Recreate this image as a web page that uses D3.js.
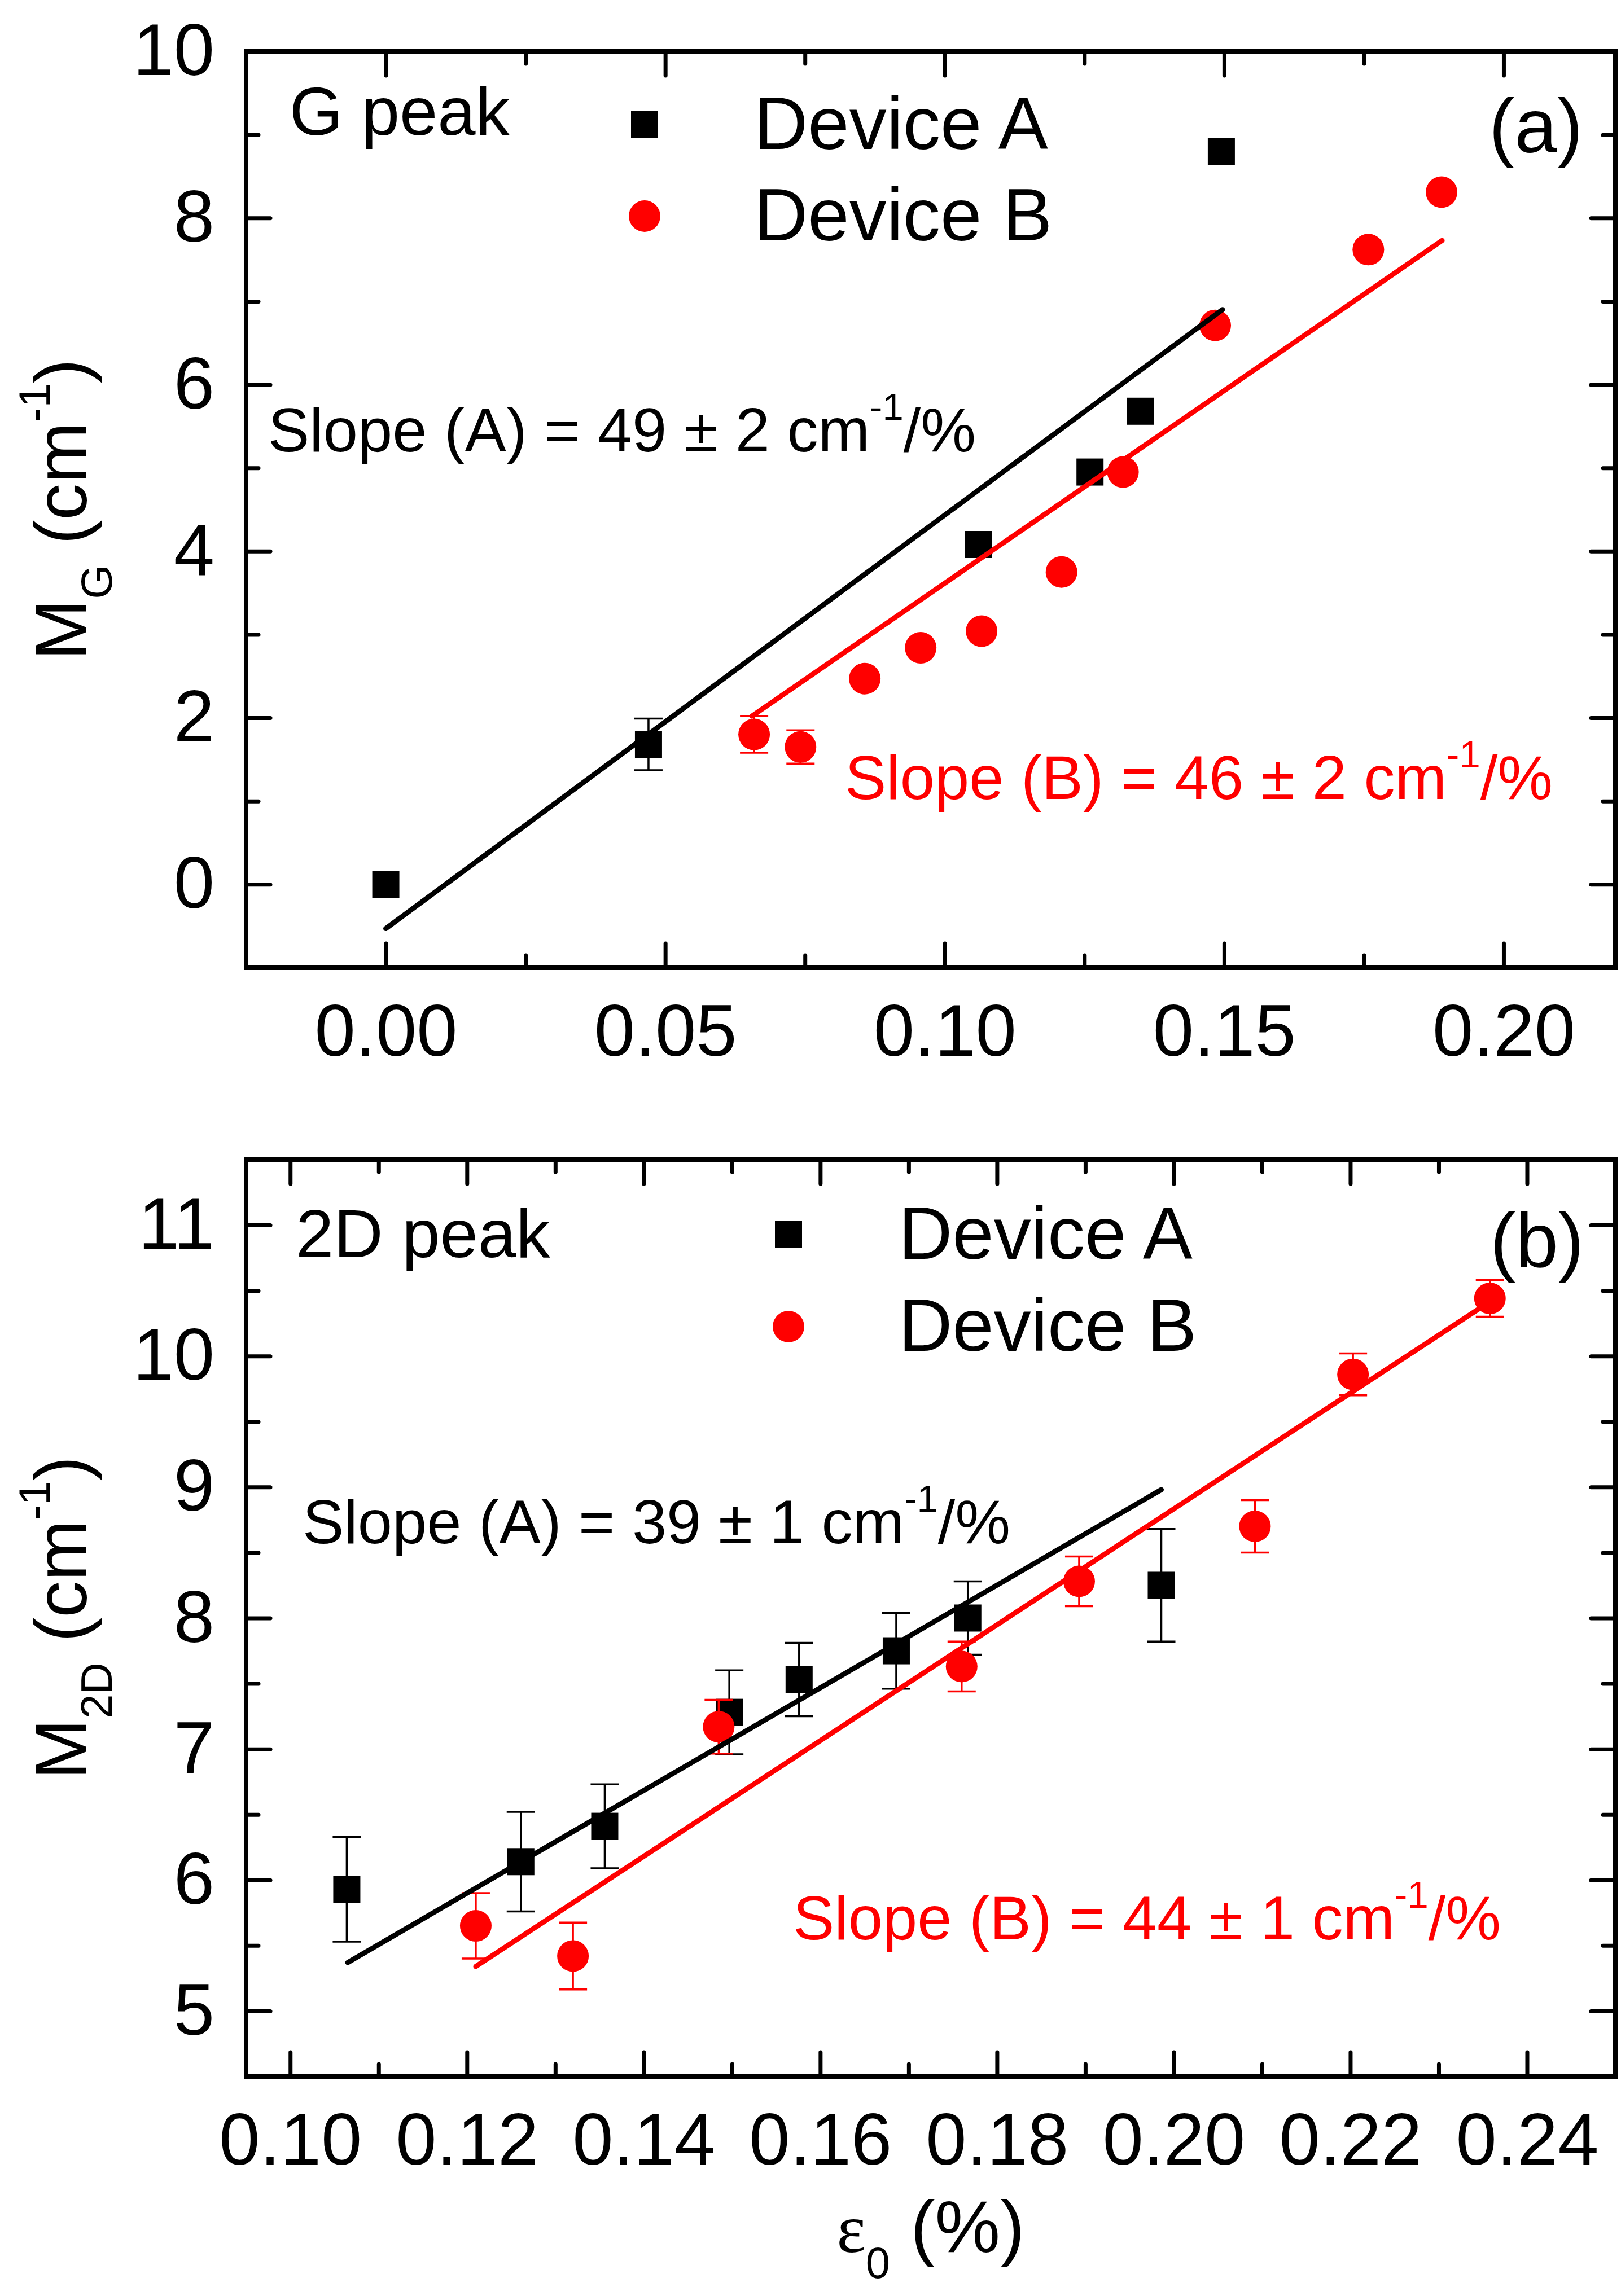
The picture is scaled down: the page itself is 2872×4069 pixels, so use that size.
<!DOCTYPE html>
<html><head><meta charset="utf-8">
<script src="https://cdn.jsdelivr.net/npm/d3@7"></script>
<style>body{margin:0;background:#fff} svg{display:block}</style>
</head><body><svg id="c" width="2872" height="4069"></svg>
<script>
// ---------- DATA ----------
// Panel (a): G peak
const gXMajor = [0, 0.05, 0.10, 0.15, 0.20];
const gXMinor = [0.025, 0.075, 0.125, 0.175];
const gYMajor = [0, 2, 4, 6, 8, 10];
const gYMinor = [1, 3, 5, 7, 9];
const gA_x = [0.000, 0.047, 0.106, 0.126, 0.135, 0.1495];
const gA_y = [0.00, 1.68, 4.08, 4.95, 5.68, 8.80];
const gA_err = [0, 0.31, 0, 0, 0, 0];
const gB_x = [0.0659, 0.0742, 0.0857, 0.0957, 0.1066, 0.1209, 0.1319, 0.1484, 0.1758, 0.1889];
const gB_y = [1.80, 1.65, 2.47, 2.84, 3.04, 3.75, 4.95, 6.71, 7.62, 8.31];
const gB_err = [0.22, 0.20, 0, 0, 0, 0, 0, 0, 0, 0];
const gFitA = [[0.0, -0.53], [0.1497, 6.90]];
const gFitB = [[0.0655, 2.02], [0.189, 7.73]];

// Panel (b): 2D peak
const dXMajor = [0.10, 0.12, 0.14, 0.16, 0.18, 0.20, 0.22, 0.24];
const dXMinor = [0.11, 0.13, 0.15, 0.17, 0.19, 0.21, 0.23];
const dYMajor = [5, 6, 7, 8, 9, 10, 11];
const dYMinor = [5.5, 6.5, 7.5, 8.5, 9.5, 10.5];
const dA_x = [0.1064, 0.1261, 0.1356, 0.1497, 0.1576, 0.1686, 0.1767, 0.1986];
const dA_y = [5.93, 6.14, 6.41, 7.28, 7.53, 7.75, 8.00, 8.25];
const dA_err = [0.40, 0.38, 0.32, 0.32, 0.28, 0.29, 0.28, 0.43];
const dB_x = [0.1210, 0.1320, 0.1485, 0.1760, 0.1893, 0.2092, 0.2203, 0.2358];
const dB_y = [5.65, 5.42, 7.17, 7.63, 8.28, 8.70, 9.86, 10.44];
const dB_err = [0.25, 0.255, 0.205, 0.19, 0.19, 0.20, 0.16, 0.14];
const dFitA = [[0.1065, 5.37], [0.1986, 8.98]];
const dFitB = [[0.121, 5.34], [0.235, 10.38]];

const legendNames = ["Device A", "Device B"];
const RED = "#ff0000";
const FONT = "'Liberation Sans', Arial, sans-serif";

// ---------- DRAW ----------
const svg = d3.select('#c');
svg.append('rect').attr('width', 2872).attr('height', 4069).attr('fill', '#fff');

const MAJ = 43, MIN = 22;

function panel(p) {
  const x = d3.scaleLinear().domain(p.xDomain).range([p.left, p.right]);
  const y = d3.scaleLinear().domain(p.yDomain).range([p.bottom, p.top]);
  const g = svg.append('g');

  function addAxis(axis, tr, labels) {
    const a = g.append('g').attr('transform', tr).call(axis);
    a.select('.domain').remove();
    a.attr('font-size', 130).attr('font-family', FONT);
    a.selectAll('.tick line').attr('stroke', '#000').attr('stroke-width', 7).attr('stroke-linecap', 'round');
    a.selectAll('.tick text').attr('fill', '#000');
    if (!labels) a.selectAll('.tick text').remove();
  }
  const fx = d3.format('.2f');
  addAxis(d3.axisBottom(x).tickValues(p.xMajor).tickSize(-MAJ).tickPadding(64).tickFormat(fx), `translate(0,${p.bottom})`, true);
  addAxis(d3.axisBottom(x).tickValues(p.xMinor).tickSize(-MIN), `translate(0,${p.bottom})`, false);
  addAxis(d3.axisTop(x).tickValues(p.xMajor).tickSize(-MAJ), `translate(0,${p.top})`, false);
  addAxis(d3.axisTop(x).tickValues(p.xMinor).tickSize(-MIN), `translate(0,${p.top})`, false);
  addAxis(d3.axisLeft(y).tickValues(p.yMajor).tickSize(-MAJ).tickPadding(56).tickFormat(d3.format('d')), `translate(${p.left},0)`, true);
  addAxis(d3.axisLeft(y).tickValues(p.yMinor).tickSize(-MIN), `translate(${p.left},0)`, false);
  addAxis(d3.axisRight(y).tickValues(p.yMajor).tickSize(-MAJ), `translate(${p.right},0)`, false);
  addAxis(d3.axisRight(y).tickValues(p.yMinor).tickSize(-MIN), `translate(${p.right},0)`, false);

  g.append('rect').attr('x', p.left).attr('y', p.top)
    .attr('width', p.right - p.left).attr('height', p.bottom - p.top)
    .attr('fill', 'none').attr('stroke', '#000').attr('stroke-width', 8);

  function errBars(xs, ys, es, color) {
    const d = xs.map((v, i) => ({x: v, y: ys[i], e: es[i]})).filter(o => o.e > 0);
    const eg = g.append('g').attr('stroke', color).attr('stroke-width', 3.5);
    d.forEach(o => {
      const cx = x(o.x), y1 = y(o.y - o.e), y2 = y(o.y + o.e);
      eg.append('line').attr('x1', cx).attr('x2', cx).attr('y1', y1).attr('y2', y2);
      eg.append('line').attr('x1', cx - 25).attr('x2', cx + 25).attr('y1', y1).attr('y2', y1);
      eg.append('line').attr('x1', cx - 25).attr('x2', cx + 25).attr('y1', y2).attr('y2', y2);
    });
  }
  errBars(p.ax, p.ay, p.ae, '#000');
  g.append('g').selectAll('rect').data(p.ax.map((v, i) => [v, p.ay[i]])).join('rect')
    .attr('x', d => x(d[0]) - 24).attr('y', d => y(d[1]) - 24)
    .attr('width', 48).attr('height', 48).attr('fill', '#000');
  errBars(p.bx, p.by, p.be, RED);
  g.append('g').selectAll('circle').data(p.bx.map((v, i) => [v, p.by[i]])).join('circle')
    .attr('cx', d => x(d[0])).attr('cy', d => y(d[1])).attr('r', 28).attr('fill', RED);

  const line = d3.line().x(d => x(d[0])).y(d => y(d[1]));
  g.append('path').attr('d', line(p.fitA)).attr('fill', 'none').attr('stroke', '#000').attr('stroke-width', 9).attr('stroke-linecap', 'round');
  g.append('path').attr('d', line(p.fitB)).attr('fill', 'none').attr('stroke', RED).attr('stroke-width', 9).attr('stroke-linecap', 'round');

  // legend
  g.append('rect').attr('x', p.legX - 24).attr('y', p.legY1 - 24).attr('width', 48).attr('height', 48).attr('fill', '#000');
  g.append('circle').attr('cx', p.legX).attr('cy', p.legY2).attr('r', 28).attr('fill', RED);
  g.append('text').attr('x', p.legTX).attr('y', p.legY1 + 43).attr('font-size', 132).attr('font-family', FONT).text(legendNames[0]);
  g.append('text').attr('x', p.legTX).attr('y', p.legY2 + 43).attr('font-size', 132).attr('font-family', FONT).text(legendNames[1]);

  // peak label and panel letter
  g.append('text').attr('x', p.peakX).attr('y', p.peakY).attr('font-size', 121).attr('font-family', FONT).text(p.peak);
  g.append('text').attr('x', p.letX).attr('y', p.letY).attr('font-size', 136).attr('font-family', FONT).text(p.letter);

  // slope texts
  function slope(tx, ty, main, color) {
    const t = g.append('text').attr('x', tx).attr('y', ty).attr('font-size', 110).attr('font-family', FONT).attr('fill', color);
    t.append('tspan').text(main);
    t.append('tspan').attr('font-size', 67).attr('dy', -56).text('-1');
    t.append('tspan').attr('font-size', 110).attr('dy', 56).text('/%');
  }
  slope(p.sAx, p.sAy, p.sA, '#000');
  slope(p.sBx, p.sBy, p.sB, RED);

  // y title
  const cy = (p.top + p.bottom) / 2;
  const yt = g.append('text').attr('transform', `translate(153,${cy}) rotate(-90)`)
    .attr('text-anchor', 'middle').attr('font-size', 130).attr('font-family', FONT);
  yt.append('tspan').text('M');
  yt.append('tspan').attr('font-size', 78).attr('dy', 45).text(p.sub);
  yt.append('tspan').attr('font-size', 130).attr('dy', -45).text(' (cm');
  yt.append('tspan').attr('font-size', 78).attr('dy', -65).text('-1');
  yt.append('tspan').attr('font-size', 130).attr('dy', 65).text(')');
}

panel({
  left: 436, right: 2862, top: 91, bottom: 1715,
  xDomain: [-0.025, 0.22], yDomain: [-1, 10],
  xMajor: gXMajor, xMinor: gXMinor, yMajor: gYMajor, yMinor: gYMinor,
  ax: gA_x, ay: gA_y, ae: gA_err, bx: gB_x, by: gB_y, be: gB_err,
  fitA: gFitA, fitB: gFitB,
  legX: 1142, legY1: 221, legY2: 383, legTX: 1336,
  peak: 'G peak', peakX: 513, peakY: 239,
  letter: '(a)', letX: 2638, letY: 270,
  sA: 'Slope (A) = 49 \u00b1 2 cm', sAx: 475, sAy: 800,
  sB: 'Slope (B) = 46 \u00b1 2 cm', sBx: 1497, sBy: 1416,
  sub: 'G'
});

panel({
  left: 436, right: 2862, top: 2055, bottom: 3680,
  xDomain: [0.095, 0.25], yDomain: [4.5, 11.5],
  xMajor: dXMajor, xMinor: dXMinor, yMajor: dYMajor, yMinor: dYMinor,
  ax: dA_x, ay: dA_y, ae: dA_err, bx: dB_x, by: dB_y, be: dB_err,
  fitA: dFitA, fitB: dFitB,
  legX: 1397, legY1: 2188, legY2: 2351, legTX: 1592,
  peak: '2D peak', peakX: 524, peakY: 2228,
  letter: '(b)', letX: 2640, letY: 2245,
  sA: 'Slope (A) = 39 \u00b1 1 cm', sAx: 536, sAy: 2735,
  sB: 'Slope (B) = 44 \u00b1 1 cm', sBx: 1405, sBy: 3437,
  sub: '2D'
});

// x title
const xt = svg.append('text').attr('x', 1649).attr('y', 3991).attr('text-anchor', 'middle')
  .attr('font-size', 130).attr('font-family', FONT);
xt.append('tspan').attr('font-family', "'Liberation Serif', 'Times New Roman', serif").attr('font-size', 122).text('\u03b5');
xt.append('tspan').attr('font-size', 78).attr('dy', 46).text('0');
xt.append('tspan').attr('font-size', 130).attr('dy', -46).text(' (%)');
</script></body></html>
